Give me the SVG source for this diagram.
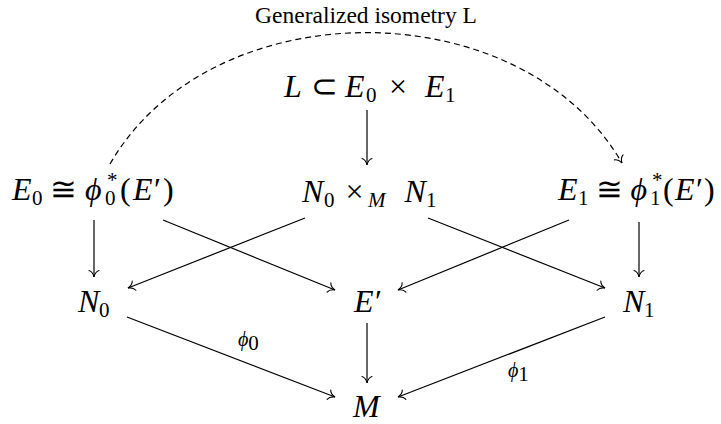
<svg xmlns="http://www.w3.org/2000/svg" width="721" height="424" viewBox="0 0 721 424">
<style>
text{fill:#000}
.m{font-size:32px}
.i{font-style:italic}
.s{font-size:21px}
.t{font-size:23.5px}
.lbl{font-size:20px;font-style:italic}
.c{stroke:#000;stroke-width:1.2;fill:none;marker-end:url(#ar)}
.d{stroke-dasharray:6 4}
</style>
<defs>
<marker id="ar" markerUnits="userSpaceOnUse" markerWidth="14" markerHeight="14" viewBox="-8 -7 10 14" refX="0" refY="0" orient="auto" overflow="visible">
<path d="M-6.5,-5 C-5.5,-2 -2.2,-0.5 0,0 C-2.2,0.5 -5.5,2 -6.5,5" stroke="#000" stroke-width="1.1" fill="none" stroke-linecap="round"/>
</marker>
</defs>
<text class="t" x="366" y="23" text-anchor="middle" font-family="Liberation Serif">Generalized isometry L</text>
<g id="connectors">
<path class="c d" d="M110,164 C211,-11 521,-11 622,163"/>
<line class="c" x1="367" y1="110" x2="367" y2="165"/>
<line class="c" x1="94" y1="220" x2="94" y2="277"/>
<line class="c" x1="639" y1="222" x2="639" y2="277"/>
<line class="c" x1="305" y1="218" x2="128" y2="288"/>
<line class="c" x1="428" y1="218" x2="605" y2="288"/>
<line class="c" x1="163" y1="220" x2="335" y2="290"/>
<line class="c" x1="569" y1="220" x2="398" y2="290"/>
<line class="c" x1="367" y1="323" x2="367" y2="383"/>
<line class="c" x1="127" y1="317" x2="335" y2="397"/>
<line class="c" x1="605" y1="317" x2="398" y2="397"/>
<text class="lbl" x="238" y="346" font-family="Liberation Serif">ϕ<tspan class="s" font-style="normal" font-size="19" dy="4">0</tspan></text>
<text class="lbl" x="508" y="377" font-family="Liberation Serif">ϕ<tspan class="s" font-style="normal" font-size="19" dy="4">1</tspan></text>
</g>
<g id="node-L">
<text class="m" y="97" font-family="Liberation Serif"><tspan class="i" x="284">L</tspan><tspan x="311">⊂</tspan><tspan class="i" x="345">E</tspan><tspan class="s" x="366" dy="5">0</tspan><tspan x="389" dy="-5">×</tspan><tspan class="i" x="425">E</tspan><tspan class="s" x="445" dy="5">1</tspan></text>
</g>
<g id="node-E0iso">
<text class="m" y="200" font-family="Liberation Serif"><tspan class="i" x="12">E</tspan><tspan class="s" x="32" dy="5">0</tspan><tspan x="50" dy="-5">≅</tspan><tspan class="i" x="85">ϕ</tspan><tspan class="s" x="105" dy="5">0</tspan><tspan class="s" x="107" dy="-18">*</tspan><tspan x="120" dy="13">(</tspan><tspan class="i" x="133">E</tspan><tspan x="154">′</tspan><tspan x="163">)</tspan></text>
</g>
<g id="node-fibre">
<text class="m" y="202" font-family="Liberation Serif"><tspan class="i" x="302">N</tspan><tspan class="s" x="324" dy="5">0</tspan><tspan x="345.5" dy="-5">×</tspan><tspan class="s i" x="368" dy="5">M</tspan><tspan class="i" x="404.5" dy="-5">N</tspan><tspan class="s" x="426" dy="5">1</tspan></text>
</g>
<g id="node-E1iso">
<text class="m" y="200" font-family="Liberation Serif"><tspan class="i" x="558">E</tspan><tspan class="s" x="578" dy="5">1</tspan><tspan x="596" dy="-5">≅</tspan><tspan class="i" x="630.5">ϕ</tspan><tspan class="s" x="650" dy="5">1</tspan><tspan class="s" x="652" dy="-18">*</tspan><tspan x="663" dy="13">(</tspan><tspan class="i" x="675">E</tspan><tspan x="696">′</tspan><tspan x="704">)</tspan></text>
</g>
<g id="node-N0">
<text class="m" y="312" font-family="Liberation Serif"><tspan class="i" x="78">N</tspan><tspan class="s" x="99" dy="5">0</tspan></text>
</g>
<g id="node-Eprime">
<text class="m" y="312" font-family="Liberation Serif"><tspan class="i" x="354">E</tspan><tspan x="375">′</tspan></text>
</g>
<g id="node-N1">
<text class="m" y="312" font-family="Liberation Serif"><tspan class="i" x="623">N</tspan><tspan class="s" x="644" dy="5">1</tspan></text>
</g>
<g id="node-M">
<text class="m i" x="353" y="417" font-family="Liberation Serif">M</text>
</g>
</svg>
